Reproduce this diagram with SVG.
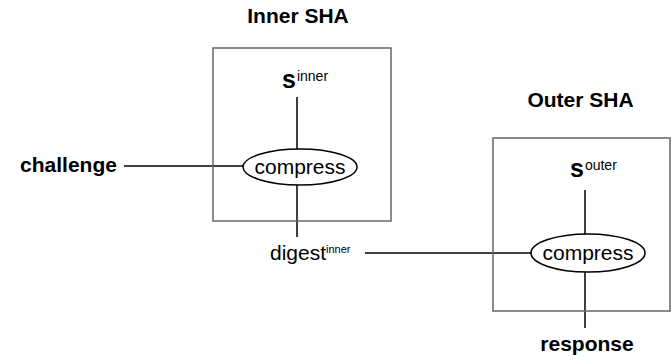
<svg xmlns="http://www.w3.org/2000/svg" width="671" height="360" viewBox="0 0 671 360">
<style>
text{font-family:"Liberation Sans",Arial,sans-serif;fill:#000}
.title{font-size:21px;font-weight:bold;text-anchor:middle}
.lbl{font-size:21px}
.s{font-size:25px;font-weight:bold}
.sup{font-size:14px;font-weight:normal}
.dsup{font-size:11px}
.box{fill:none;stroke:#666;stroke-width:1.5}
.ell{fill:#fff;stroke:#000;stroke-width:1.5}
.ln{stroke:#000;stroke-width:1.5;fill:none}
</style>
<rect width="671" height="360" fill="#fff"/>
<g id="connectors">
<line class="ln" x1="297" y1="97" x2="297" y2="149"/>
<line class="ln" x1="297" y1="185" x2="297" y2="237"/>
<line class="ln" x1="124" y1="166" x2="244" y2="166"/>
<line class="ln" x1="365" y1="253" x2="531" y2="253"/>
<line class="ln" x1="585" y1="190" x2="585" y2="235"/>
<line class="ln" x1="585" y1="272" x2="585" y2="328"/>
</g>
<g id="inner-sha">
<rect class="box" x="213" y="48" width="178" height="173"/>
<text class="title" x="298" y="23">Inner SHA</text>
</g>
<g id="s-inner">
<text class="s" x="282" y="88">s<tspan class="sup" dx="1" dy="-7">inner</tspan></text>
</g>
<g id="compress-inner">
<ellipse class="ell" cx="300" cy="167" rx="57" ry="18"/>
<text class="lbl" x="300" y="174" text-anchor="middle">compress</text>
</g>
<g id="challenge">
<text class="title" x="68.5" y="172">challenge</text>
</g>
<g id="digest-inner">
<text class="lbl" x="270" y="260">digest<tspan class="dsup" dy="-7">inner</tspan></text>
</g>
<g id="outer-sha">
<rect class="box" x="493" y="138" width="177" height="173"/>
<text class="title" x="580.5" y="107">Outer SHA</text>
</g>
<g id="s-outer">
<text class="s" x="570" y="177">s<tspan class="sup" dx="1" dy="-7">outer</tspan></text>
</g>
<g id="compress-outer">
<ellipse class="ell" cx="588" cy="253" rx="57" ry="19"/>
<text class="lbl" x="588" y="260" text-anchor="middle">compress</text>
</g>
<g id="response">
<text class="title" x="587" y="351">response</text>
</g>
</svg>
